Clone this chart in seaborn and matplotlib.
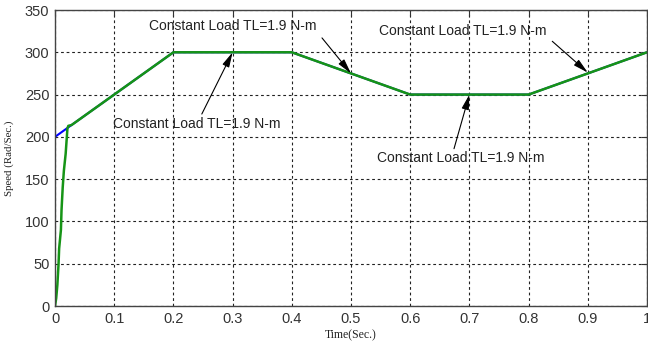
import matplotlib
matplotlib.use("Agg")
import matplotlib.pyplot as plt
import seaborn as sns
import pandas as pd

# Reference speed profile (rad/s)
t_ref = [0.0, 0.2, 0.4, 0.6, 0.8, 1.0]
w_ref = [200, 300, 300, 250, 250, 300]

# Measured rotor speed: fast start-up, then tracks the reference
t_act = [0.0, 0.002, 0.004, 0.006, 0.007, 0.010, 0.011, 0.013, 0.015, 0.018,
         0.021, 0.0225, 0.028, 0.2, 0.4, 0.6, 0.8, 1.0]
w_act = [0, 9, 25, 50, 68, 90, 113, 140, 160, 180,
         210, 213, 214, 300, 300, 250, 250, 300]

x_ticks = [0, 0.1, 0.2, 0.3, 0.4, 0.5, 0.6, 0.7, 0.8, 0.9, 1]
x_tick_labels = ["0", "0.1", "0.2", "0.3", "0.4", "0.5", "0.6", "0.7", "0.8", "0.9", "1"]
y_ticks = [0, 50, 100, 150, 200, 250, 300, 350]

load_label = "Constant Load TL=1.9 N-m"
# (text x, text y, arrow tail x, arrow tail y, arrow head x, arrow head y)
notes = [
    (0.30, 331, 0.451, 317, 0.5, 275),
    (0.24, 215, 0.248, 227, 0.3, 300),
    (0.689, 325, 0.84, 313, 0.9, 276),
    (0.686, 175, 0.674, 186, 0.7, 250),
]

sns.set_style("white")
plt.rcParams["font.family"] = ["Liberation Sans", "DejaVu Sans"]

ref_df = pd.DataFrame({"t": t_ref, "w": w_ref})
act_df = pd.DataFrame({"t": t_act, "w": w_act})

fig = plt.figure(figsize=(6.48, 3.44), dpi=100)
ax = fig.add_axes([55 / 648, 38 / 344, 592 / 648, 296 / 344])

sns.lineplot(data=ref_df, x="t", y="w", ax=ax, color="#0000ff", lw=1.5,
             estimator=None, sort=False)
sns.lineplot(data=act_df, x="t", y="w", ax=ax, color="#169416", lw=1.8,
             estimator=None, sort=False)

ax.set_xlim(0, 1)
ax.set_ylim(0, 350)
ax.set_xticks(x_ticks)
ax.set_xticklabels(x_tick_labels)
ax.set_yticks(y_ticks)
ax.tick_params(direction="in", length=4, width=0.8, colors="#333333",
               labelsize=10.5, top=True, right=True, pad=4)
ax.grid(True, color="#222222", linestyle=(0, (2.5, 2.5)), linewidth=0.8)
for s in ax.spines.values():
    s.set_color("#444444")
    s.set_linewidth(1.0)

ax.set_xlabel("Time(Sec.)", family="Liberation Serif", fontsize=8.5,
              color="#222222", labelpad=3)
ax.set_ylabel("Speed (Rad/Sec.)", family="Liberation Serif", fontsize=7.8,
              color="#222222", labelpad=8)

for tx, ty, ax0, ay0, hx, hy in notes:
    ax.text(tx, ty, load_label, ha="center", va="center", fontsize=10,
            color="#222222", zorder=5)
    ax.annotate("", xy=(hx, hy), xytext=(ax0, ay0),
                arrowprops=dict(arrowstyle="-|>,head_length=0.9,head_width=0.22",
                                color="black", lw=0.8, shrinkA=0, shrinkB=0),
                zorder=6)

fig.savefig("out.png", dpi=100)
